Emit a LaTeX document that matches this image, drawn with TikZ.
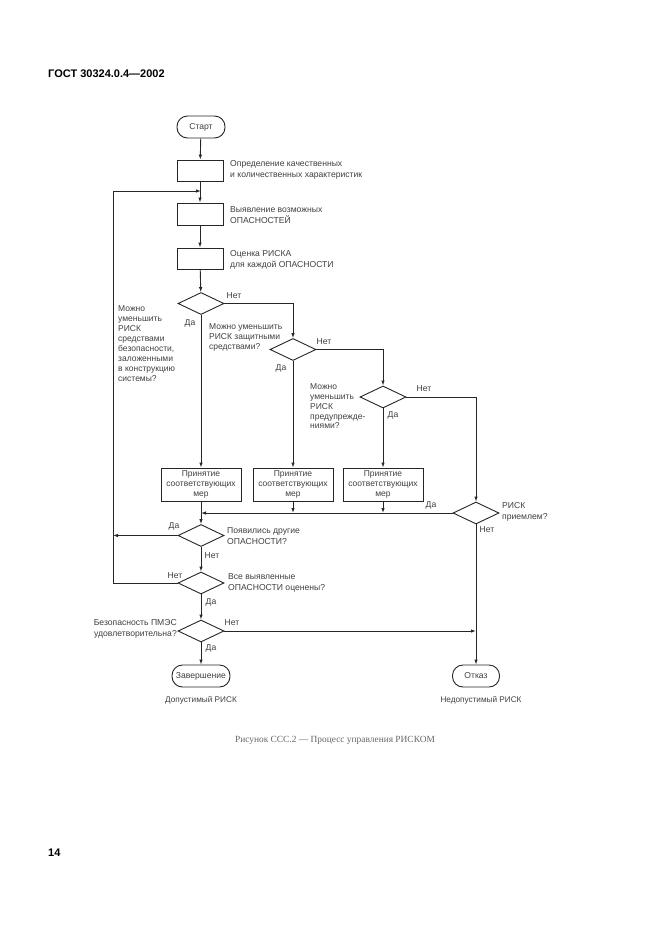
\documentclass[tikz,border=0pt]{standalone}
\usepackage{fontspec}
\setmainfont{Liberation Serif}
\setsansfont{Liberation Sans}
\usetikzlibrary{shapes.geometric,arrows.meta}
\definecolor{ln}{gray}{0.15}
\definecolor{txt}{gray}{0.25}
\definecolor{cap}{gray}{0.4}
\begin{document}
\begin{tikzpicture}[x=1pt,y=-1pt,
  font=\sffamily\fontsize{8.6}{11}\selectfont,
  every node/.style={text=txt},
  box/.style={draw=ln, line width=0.9pt, minimum width=46pt, minimum height=21pt, inner sep=0pt},
  dia/.style={draw=ln, line width=0.9pt, diamond, minimum width=46pt, minimum height=22pt, inner sep=0pt},
  term/.style={draw=ln, line width=0.9pt, rounded corners=10.5pt, minimum height=22pt, inner sep=2pt},
  mbox/.style={draw=ln, line width=0.9pt, minimum width=80pt, minimum height=33pt, align=center, inner sep=0pt, font=\sffamily\fontsize{8.5}{9.6}\selectfont},
  lbl/.style={inner sep=0pt, align=left},
  arr/.style={draw=ln, line width=0.9pt, -{Latex[length=5pt,width=3.5pt]}}]
\useasboundingbox (0,0) rectangle (661,935);
\fill[white] (0,0) rectangle (661,935);

% header and page number
\node[lbl, anchor=west, text=black, font=\sffamily\bfseries\fontsize{11}{13}\selectfont] (hdr) at (48,74) {ГОСТ 30324.0.4—2002};
\node[lbl, anchor=west, text=black, font=\sffamily\bfseries\fontsize{11}{13}\selectfont] (pg) at (48,853) {14};

% nodes
\node[term, minimum width=48pt] (start) at (201,127) {Старт};
\node[box] (b1) at (200,170.5) {};
\node[box, minimum height=22pt] (b2) at (200,214) {};
\node[box] (b3) at (200,258.5) {};
\node[dia] (d1) at (201,303.5) {};
\node[dia] (d2) at (293,349.5) {};
\node[dia] (d3) at (383,397) {};
\node[mbox] (mA) at (201,484.5) {Принятие\\соответствующих\\мер};
\node[mbox] (mB) at (293,484.5) {Принятие\\соответствующих\\мер};
\node[mbox] (mC) at (383,484.5) {Принятие\\соответствующих\\мер};
\node[dia] (d4) at (476,513) {};
\node[dia] (d5) at (201,535.5) {};
\node[dia] (d6) at (201,583) {};
\node[dia] (d7) at (201,631) {};
\node[term, minimum width=58pt] (fin) at (201,676) {Завершение};
\node[term, minimum width=47pt] (rej) at (476,676) {Отказ};

% coordinates
\coordinate (jA) at (201,513);
\coordinate (jB) at (293,513);
\coordinate (jC) at (383,513);
\coordinate (L5) at (113,535.5);
\coordinate (L6) at (113,583);
\coordinate (Ltop) at (113,191);
\coordinate (J1) at (201,191);
\coordinate (J7) at (476,631);

% connectors
\draw[arr] (start) -- (b1);
\draw[arr] (b1) -- (b2);
\draw[arr] (b2) -- (b3);
\draw[arr] (b3) -- (d1);
\draw[arr] (d1.east) -| (d2.north);
\draw[arr] (d1.south) -- (mA.north);
\draw[arr] (d2.east) -| (d3.north);
\draw[arr] (d2.south) -- (mB.north);
\draw[arr] (d3.east) -| (d4.north);
\draw[arr] (d3.south) -- (mC.north);
\draw[arr] (d4.west) -- (jA);
\draw[arr] (mB.south) -- (jB);
\draw[arr] (mC.south) -- (jC);
\draw[arr] (mA.south) -- (d5.north);
\draw[arr] (d5.west) -- (L5);
\draw[arr] (d5) -- (d6);
\draw[arr] (d6.west) -- (L6) -- (Ltop) -- (J1);
\draw[arr] (d6) -- (d7);
\draw[arr] (d7) -- (fin);
\draw[arr] (d7.east) -- (J7);
\draw[arr] (d4) -- (rej);

% texts beside boxes
\node[lbl, anchor=west] (t1) at (230,170) {Определение качественных\\и количественных характеристик};
\node[lbl, anchor=west] (t2) at (230,215) {Выявление возможных\\ОПАСНОСТЕЙ};
\node[lbl, anchor=west] (t3) at (230,260) {Оценка РИСКА\\для каждой ОПАСНОСТИ};
\node[lbl, anchor=west, font=\sffamily\fontsize{8.5}{10}\selectfont] (q1) at (118,344) {Можно\\уменьшить\\РИСК\\средствами\\безопасности,\\заложенными\\в конструкцию\\системы?};
\node[lbl, anchor=west, font=\sffamily\fontsize{8.5}{10}\selectfont] (q2) at (209,337) {Можно уменьшить\\РИСК защитными\\средствами?};
\node[lbl, anchor=west, font=\sffamily\fontsize{8.5}{9.75}\selectfont] (q3) at (310,406.5) {Можно\\уменьшить\\РИСК\\предупрежде-\\ниями?};
\node[lbl, anchor=west] (q4) at (502,512) {РИСК\\приемлем?};
\node[lbl, anchor=west] (q5) at (227,536) {Появились другие\\ОПАСНОСТИ?};
\node[lbl, anchor=west] (q6) at (228,583) {Все выявленные\\ОПАСНОСТИ оценены?};
\node[lbl, anchor=east, align=right] (q7) at (177,629) {Безопасность ПМЭС\\удовлетворительна?};

% yes/no labels
\node[lbl] (n1) at (234,296) {Нет};
\node[lbl] (y1) at (190,323) {Да};
\node[lbl] (n2) at (324,342) {Нет};
\node[lbl] (y2) at (281,368) {Да};
\node[lbl] (n3) at (424,389) {Нет};
\node[lbl] (y3) at (393,415) {Да};
\node[lbl] (y4) at (431,505) {Да};
\node[lbl] (n4) at (487,530) {Нет};
\node[lbl] (y5) at (174,526) {Да};
\node[lbl] (n5) at (212,556) {Нет};
\node[lbl] (n6) at (175,576) {Нет};
\node[lbl] (y6) at (211,602) {Да};
\node[lbl] (n7) at (232,623) {Нет};
\node[lbl] (y7) at (211,648) {Да};

% end captions
\node[lbl, font=\sffamily\fontsize{8.2}{10}\selectfont] (ok) at (201,700) {Допустимый РИСК};
\node[lbl, font=\sffamily\fontsize{8.2}{10}\selectfont] (nok) at (481,700) {Недопустимый РИСК};

% figure caption
\node[lbl, text=cap, font=\rmfamily\fontsize{9.4}{11}\selectfont] (fig) at (335,740) {Рисунок ССС.2 — Процесс управления РИСКОМ};
\end{tikzpicture}
\end{document}
